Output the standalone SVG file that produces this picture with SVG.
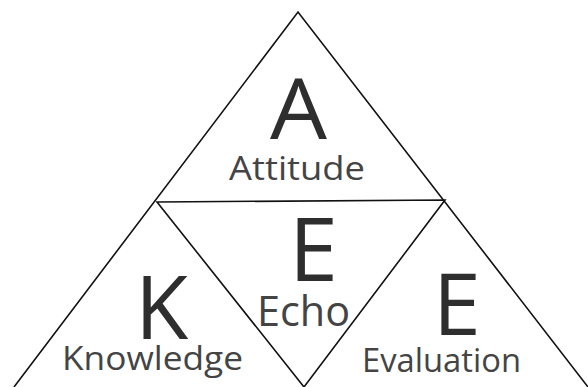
<svg xmlns="http://www.w3.org/2000/svg" width="588" height="387" viewBox="0 0 588 387">
<style>
.edge{fill:none;stroke:#111;stroke-width:1.6;stroke-linejoin:miter}
.big{font-family:"Open Sans","Noto Sans","Liberation Sans",sans-serif;fill:#2e2e2e}
.lbl{font-family:"Open Sans","Noto Sans","Liberation Sans",sans-serif;fill:#444}
</style>
<rect width="588" height="387" fill="#fff"/>
<g id="connectors">
<polyline class="edge" points="14,387 298,12 588,387"/>
<polygon class="edge" points="157,202 445,200 304,387"/>
</g>
<g id="node-attitude">
<text class="big" x="270" y="139" font-size="85" textLength="57" lengthAdjust="spacingAndGlyphs">A</text>
<text class="lbl" x="229" y="180" font-size="33" textLength="136" lengthAdjust="spacingAndGlyphs">Attitude</text>
</g>
<g id="node-echo">
<text class="big" x="289" y="281" font-size="88">E</text>
<text class="lbl" x="257" y="326" font-size="42" textLength="93" lengthAdjust="spacingAndGlyphs">Echo</text>
</g>
<g id="node-knowledge">
<text class="big" x="135" y="339" font-size="87">K</text>
<text class="lbl" x="62" y="370" font-size="32" textLength="181" lengthAdjust="spacingAndGlyphs">Knowledge</text>
</g>
<g id="node-evaluation">
<text class="big" x="433" y="335" font-size="86">E</text>
<text class="lbl" x="362" y="372" font-size="32" textLength="159" lengthAdjust="spacingAndGlyphs">Evaluation</text>
</g>
</svg>
